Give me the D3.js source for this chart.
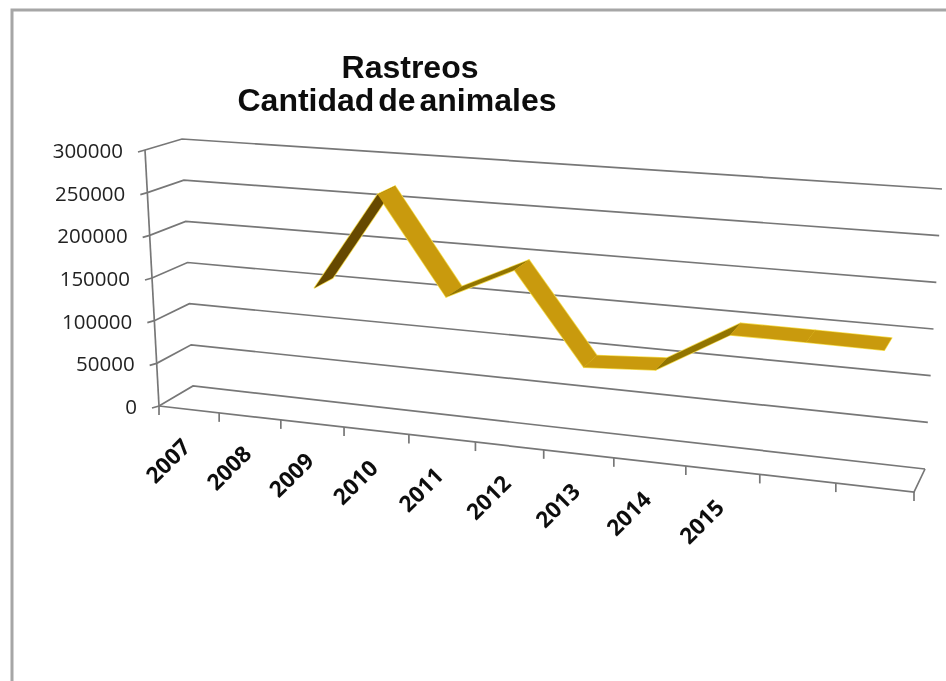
<!DOCTYPE html>
<html>
<head>
<meta charset="utf-8">
<title>Rastreos</title>
<script src="https://cdn.jsdelivr.net/npm/d3@7"></script>
<style>
    html, body { margin: 0; padding: 0; background: #fff; }
    svg { display: block; }
</style>
</head>
<body>
<div id="chart"></div>
<script>
// data, last two categories have no label in the original
const categories = ["2007", "2008", "2009", "2010", "2011", "2012", "2013", "2014", "2015", "", ""];
const animales = [null, null, 151500, 265000, 155000, 192000, 91000, 96000, 142000, 141700, 141000];
const valueTicks = [0, 50000, 100000, 150000, 200000, 250000, 300000];
const titleLines = ["Rastreos", "Cantidad de animales"];

const width = 946, height = 681;
const svg = d3.select("#chart").append("svg").attr("width", width).attr("height", height);

// small blur, the reference is a soft screenshot
const defs = svg.append("defs");
defs.append("filter").attr("id", "soft").append("feGaussianBlur").attr("stdDeviation", 0.6);
defs.append("filter").attr("id", "softer").append("feGaussianBlur").attr("stdDeviation", 0.4);

const root = svg.append("g");

// window frame
root.append("path")
    .attr("d", "M12,681V10H946")
    .attr("fill", "none")
    .attr("stroke", "#a6a6a6")
    .attr("stroke-width", 3);

// the 3d box: one value scale for x and y on each vertical edge of the floor
const valueDomain = [0, 300000];
const edges = {
    frontLeft: { x: d3.scaleLinear(valueDomain, [159, 145]), y: d3.scaleLinear(valueDomain, [406, 150]) },
    backLeft: { x: d3.scaleLinear(valueDomain, [193, 182]), y: d3.scaleLinear(valueDomain, [386, 139]) },
    frontRight: { x: d3.scaleLinear(valueDomain, [914, 931]), y: d3.scaleLinear(valueDomain, [492, 207]) },
    backRight: { x: d3.scaleLinear(valueDomain, [925, 942]), y: d3.scaleLinear(valueDomain, [469, 189]) }
};

// category position along the floor, foreshortened on the left side
const slot = d3.scaleLinear([0, categories.length], [0, 1]);
const foreshorten = 1.155;
function along(i) {
    const u = slot(i);
    return u / (u + foreshorten * (1 - u));
}

// i = category position, v = value, d = depth (0 front, 1 back)
function project(i, v, d) {
    const t = along(i);
    const left = [
        d3.interpolateNumber(edges.frontLeft.x(v), edges.backLeft.x(v))(d),
        d3.interpolateNumber(edges.frontLeft.y(v), edges.backLeft.y(v))(d)
    ];
    const right = [
        d3.interpolateNumber(edges.frontRight.x(v), edges.backRight.x(v))(d),
        d3.interpolateNumber(edges.frontRight.y(v), edges.backRight.y(v))(d)
    ];
    return [d3.interpolateNumber(left[0], right[0])(t), d3.interpolateNumber(left[1], right[1])(t)];
}

const lineGen = d3.line();
const plot = root.append("g").attr("filter", "url(#softer)");
const axisColor = "#777777";

// gridlines on the back wall and their return along the left wall
plot.selectAll("path.grid")
    .data(valueTicks)
    .join("path")
    .attr("class", "grid")
    .attr("fill", "none")
    .attr("stroke", axisColor)
    .attr("stroke-width", 1.7)
    .attr("d", v => {
        const start = project(0, v, 0);
        return lineGen([[start[0] - 7, start[1] + 2], start, project(0, v, 1), project(categories.length, v, 1)]);
    });

// value axis
plot.append("path")
    .attr("fill", "none")
    .attr("stroke", axisColor)
    .attr("stroke-width", 1.7)
    .attr("d", lineGen([project(0, 0, 0), project(0, 300000, 0)]));

// front edge of the floor and the right side
plot.append("path")
    .attr("fill", "none")
    .attr("stroke", axisColor)
    .attr("stroke-width", 1.7)
    .attr("d", lineGen([project(0, 0, 0), project(categories.length, 0, 0), project(categories.length, 0, 1)]));

// category ticks
plot.selectAll("path.tick")
    .data(d3.range(categories.length + 1))
    .join("path")
    .attr("class", "tick")
    .attr("fill", "none")
    .attr("stroke", axisColor)
    .attr("stroke-width", 1.7)
    .attr("d", i => {
        const p = project(i, 0, 0);
        return lineGen([p, [p[0], p[1] + 9]]);
    });

// ribbon, one quad per segment
const depthFront = 0.2, depthBack = 0.8;
const segments = d3.pairs(d3.range(categories.length).filter(i => animales[i] !== null));

function quad([a, b]) {
    return lineGen([
        project(a + 0.5, animales[a], depthFront),
        project(b + 0.5, animales[b], depthFront),
        project(b + 0.5, animales[b], depthBack),
        project(a + 0.5, animales[a], depthBack)
    ]) + "Z";
}

// steep rise shows the underside, a gentle one is nearly edge on, the rest is the top face
function segmentColor([a, b]) {
    const rise = animales[b] - animales[a];
    if (rise > 80000) return "#664800";
    if (rise > 10000) return "#927404";
    return "#c99a08";
}

const ribbon = root.append("g").attr("filter", "url(#soft)");
ribbon.selectAll("path.glow")
    .data(segments)
    .join("path")
    .attr("class", "glow")
    .attr("fill", "#f5dc50")
    .attr("stroke", "#f5dc50")
    .attr("stroke-width", 1.6)
    .attr("stroke-linejoin", "round")
    .attr("d", quad);
ribbon.selectAll("path.segment")
    .data(segments)
    .join("path")
    .attr("class", "segment")
    .attr("fill", segmentColor)
    .attr("d", quad);

const labels = root.append("g").attr("filter", "url(#softer)");

// value labels follow the slanted axis
labels.selectAll("text.value")
    .data(valueTicks)
    .join("text")
    .attr("class", "value")
    .attr("x", v => project(0, v, 0)[0] - 22)
    .attr("y", v => project(0, v, 0)[1] + 8)
    .attr("text-anchor", "end")
    .attr("font-family", "'Open Sans', sans-serif")
    .attr("font-size", 20.5)
    .attr("fill", "#222")
    .text(d3.format("d"));

// category labels
labels.selectAll("text.category")
    .data(categories.map((c, i) => ({ c: c, i: i })).filter(d => d.c !== ""))
    .join("text")
    .attr("class", "category")
    .attr("transform", d => {
        const p = project(d.i + 0.5, 0, 0);
        return "translate(" + (p[0] + 3) + "," + (p[1] + 39) + ") rotate(-45)";
    })
    .attr("text-anchor", "end")
    .attr("font-family", "'Open Sans', sans-serif")
    .attr("font-weight", 700)
    .attr("font-size", 22.5)
    .attr("fill", "#111")
    .text(d => d.c);

// title, second line is centred a bit left of the first one
const titleX = [410, 397];
const titleY = [78, 111];
labels.selectAll("text.title")
    .data(titleLines)
    .join("text")
    .attr("class", "title")
    .attr("x", (d, i) => titleX[i])
    .attr("y", (d, i) => titleY[i])
    .attr("text-anchor", "middle")
    .attr("font-family", "'Liberation Sans', Arial, sans-serif")
    .attr("font-weight", "bold")
    .attr("font-size", 32)
    .attr("word-spacing", -5)
    .attr("fill", "#111")
    .text(d => d);
</script>
</body>
</html>
